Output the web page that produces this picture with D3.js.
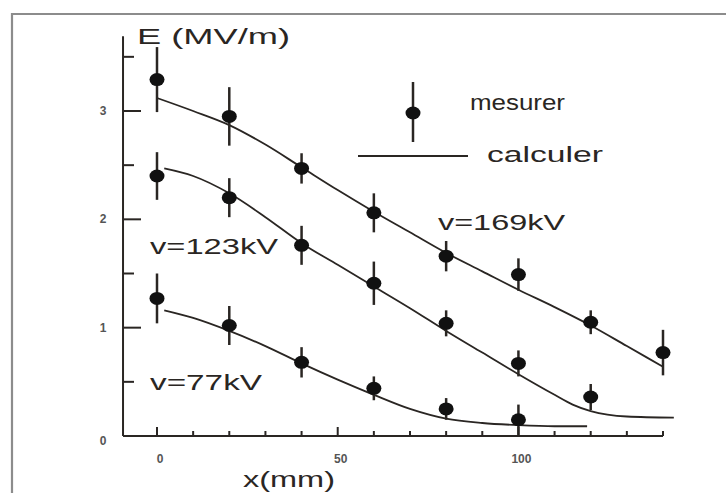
<!DOCTYPE html>
<html><head><meta charset="utf-8">
<script src="https://cdn.jsdelivr.net/npm/d3@7"></script>
<style>html,body{margin:0;padding:0;background:#fff;}svg{display:block;}</style>
</head><body>
<svg id="chart" width="726" height="493"></svg>
<script>
// ---- data ----
const xMeas = [0, 20, 40, 60, 80, 100, 120, 140];
const meas169 = [3.29, 2.95, 2.47, 2.06, 1.66, 1.49, 1.05, 0.77];
const err169 = [0.30, 0.27, 0.14, 0.18, 0.14, 0.15, 0.11, 0.21];
const meas123 = [2.40, 2.20, 1.76, 1.41, 1.04, 0.67, 0.36];
const err123 = [0.22, 0.18, 0.18, 0.20, 0.12, 0.12, 0.12];
const meas77 = [1.27, 1.02, 0.68, 0.44, 0.25, 0.15];
const err77 = [0.23, 0.18, 0.14, 0.11, 0.10, 0.14];

const calcX169 = [0, 10, 20, 30, 40, 50, 60, 70, 80, 90, 100, 110, 120, 130, 140];
const calc169 = [3.12, 3.00, 2.87, 2.69, 2.48, 2.27, 2.07, 1.88, 1.69, 1.52, 1.35, 1.19, 1.02, 0.83, 0.64];
const calcX123 = [2, 10, 20, 30, 40, 50, 60, 70, 80, 90, 100, 110, 115, 120, 130, 143];
const calc123 = [2.47, 2.40, 2.24, 2.02, 1.78, 1.58, 1.38, 1.18, 0.97, 0.77, 0.57, 0.38, 0.29, 0.23, 0.18, 0.17];
const calcX77 = [2, 10, 20, 30, 40, 50, 60, 70, 80, 90, 100, 110, 119];
const calc77 = [1.16, 1.09, 0.97, 0.83, 0.67, 0.52, 0.38, 0.25, 0.16, 0.12, 0.10, 0.09, 0.09];

const xTickValues = [0, 50, 100];
const yTickValues = [0, 1, 2, 3];
const seriesLabels = ["v=169kV", "v=123kV", "v=77kV"];
const legendLabels = ["mesurer", "calculer"];
const xTitle = "x(mm)";
const yTitle = "E  (MV/m)";

// ---- drawing ----
const svg = d3.select("#chart");
const ink = "#2a2623";
const x = d3.scaleLinear().domain([0, 140]).range([157, 663]);
const y = d3.scaleLinear().domain([0, 3]).range([436, 111]);

// frame
svg.append("path").attr("d", "M12,493 L12,14 L726,14")
  .attr("fill", "none").attr("stroke", "#8c8c8c").attr("stroke-width", 2.2);

// y axis (ticks inward)
const gy = svg.append("g").attr("transform", `translate(${x(-9.4)},0)`);
gy.append("line").attr("x1", 0).attr("x2", 0).attr("y1", y(0)).attr("y2", y(3.69))
  .attr("stroke", ink).attr("stroke-width", 2);
gy.selectAll("line.tk").data(d3.range(0.5, 3.51, 0.5)).join("line").attr("class", "tk")
  .attr("x1", 0).attr("x2", d => Number.isInteger(d) ? 18 : 11)
  .attr("y1", d => y(d)).attr("y2", d => y(d))
  .attr("stroke", ink).attr("stroke-width", 2);
svg.selectAll("text.yl").data(yTickValues).join("text").attr("class", "yl")
  .attr("x", 103).attr("y", d => y(d) + (d === 0 ? 9 : 4))
  .attr("text-anchor", "middle")
  .attr("font-family", "Liberation Sans, Arial, sans-serif").attr("font-weight", "bold")
  .attr("font-size", 12).attr("fill", "#555").text(d => d);

// x axis (ticks inward)
const gx = svg.append("g");
gx.append("line").attr("x1", x(-9.4)).attr("x2", x(140)).attr("y1", y(0)).attr("y2", y(0))
  .attr("stroke", ink).attr("stroke-width", 2);
gx.selectAll("line.tk").data(d3.range(0, 141, 10)).join("line").attr("class", "tk")
  .attr("x1", d => x(d)).attr("x2", d => x(d))
  .attr("y1", y(0)).attr("y2", d => y(0) - (d % 50 === 0 ? 9 : 5))
  .attr("stroke", ink).attr("stroke-width", 2);
svg.selectAll("text.xl").data(xTickValues).join("text").attr("class", "xl")
  .attr("x", d => x(d) + 3).attr("y", 463)
  .attr("text-anchor", "middle")
  .attr("font-family", "Liberation Sans, Arial, sans-serif").attr("font-weight", "bold")
  .attr("font-size", 12).attr("fill", "#555").text(d => d);

function stretchText(txt, xx, yy, len, size) {
  svg.append("text").attr("x", xx).attr("y", yy)
    .attr("font-family", "Liberation Sans, Arial, sans-serif").attr("font-size", size)
    .attr("fill", ink).attr("textLength", len).attr("lengthAdjust", "spacingAndGlyphs")
    .text(txt);
}
stretchText(yTitle, 137, 44, 153, 22);
stretchText(xTitle, 243, 487, 92, 22);

// curves
const line = d3.line().x(d => x(d[0])).y(d => y(d[1])).curve(d3.curveMonotoneX);
[[calcX169, calc169], [calcX123, calc123], [calcX77, calc77]].forEach(([xs, ys]) => {
  svg.append("path").datum(xs.map((v, i) => [v, ys[i]])).attr("d", line)
    .attr("fill", "none").attr("stroke", ink).attr("stroke-width", 1.8);
});

// measurements
[[meas169, err169], [meas123, err123], [meas77, err77]].forEach(([vals, errs]) => {
  const pts = vals.map((v, i) => ({x: xMeas[i], v, e: errs[i]}));
  const g = svg.append("g");
  g.selectAll("line").data(pts).join("line")
    .attr("x1", d => x(d.x)).attr("x2", d => x(d.x))
    .attr("y1", d => y(d.v + d.e)).attr("y2", d => y(d.v - d.e))
    .attr("stroke", ink).attr("stroke-width", 2.5);
  g.selectAll("ellipse").data(pts).join("ellipse")
    .attr("cx", d => x(d.x)).attr("cy", d => y(d.v)).attr("rx", 7.5).attr("ry", 6.5)
    .attr("fill", "#111");
});

// legend
svg.append("line").attr("x1", 413).attr("x2", 413).attr("y1", 82).attr("y2", 142)
  .attr("stroke", ink).attr("stroke-width", 2.5);
svg.append("ellipse").attr("cx", 413).attr("cy", 113).attr("rx", 7.5).attr("ry", 6.5).attr("fill", "#111");
svg.append("line").attr("x1", 358).attr("x2", 468).attr("y1", 156).attr("y2", 156)
  .attr("stroke", ink).attr("stroke-width", 1.8);
stretchText(legendLabels[0], 470, 110, 95, 22);
stretchText(legendLabels[1], 487, 162, 116, 22);

// series labels
stretchText(seriesLabels[0], 438, 230, 127, 22);
stretchText(seriesLabels[1], 150, 254, 128, 22);
stretchText(seriesLabels[2], 150, 390, 112, 22);
</script>
</body></html>
